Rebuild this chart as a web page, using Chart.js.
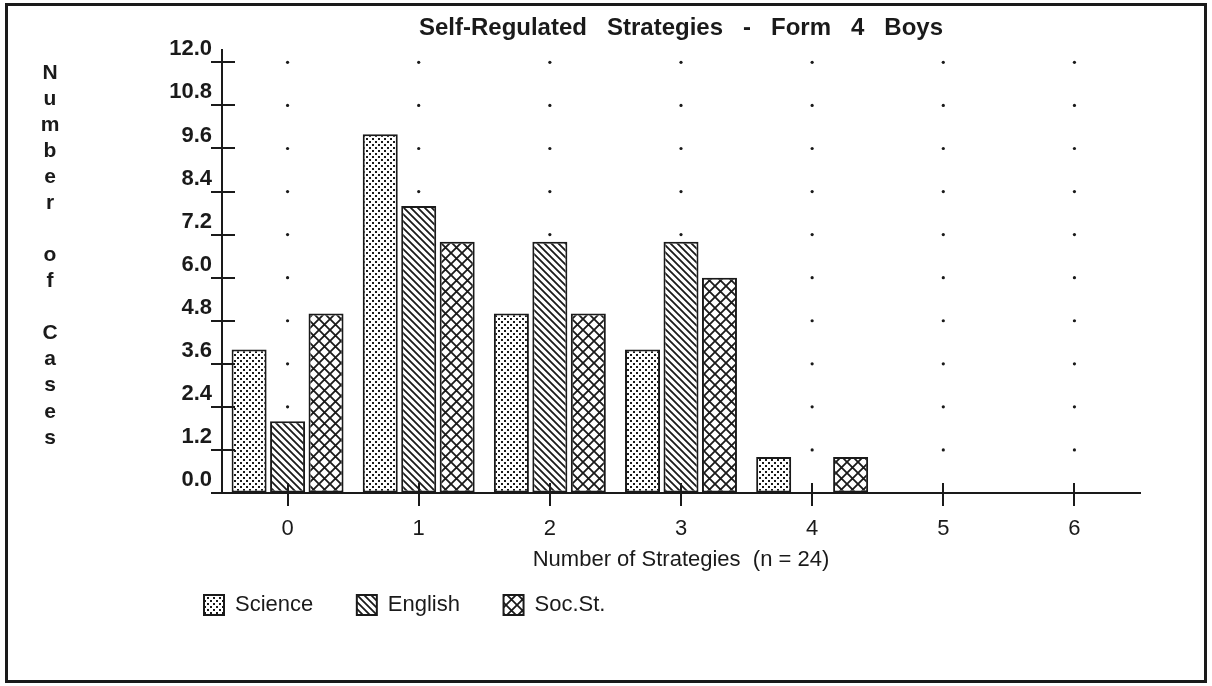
<!DOCTYPE html>
<html>
<head>
<meta charset="utf-8">
<script src="https://cdn.jsdelivr.net/npm/chart.js@4.4.1/dist/chart.umd.min.js"></script>
<style>
  html, body { margin: 0; padding: 0; background: #fff; }
  #wrap { position: relative; width: 1212px; height: 686px; }
  #chart { display: block; }
  #frame { position: absolute; left: 5px; top: 3px; width: 1202px; height: 680px; box-sizing: border-box; border: 3px solid #1a1a1a; pointer-events: none; }
</style>
</head>
<body>
<div id="wrap">
  <canvas id="chart" width="1212" height="686"></canvas>
  <div id="frame"></div>
</div>
<script>
// data
const categories = ["0", "1", "2", "3", "4", "5", "6"];
const science = [4, 10, 5, 4, 1, 0, 0];
const english = [2, 8, 7, 7, 0, 0, 0];
const socSt = [5, 7, 5, 6, 1, 0, 0];
const yTicks = [0, 1.2, 2.4, 3.6, 4.8, 6.0, 7.2, 8.4, 9.6, 10.8, 12.0];
const yTitle = "Number of Cases";

const ink = "#1a1a1a";
const fontFamily = '"Liberation Sans", Arial, Helvetica, sans-serif';
Chart.defaults.font.family = fontFamily;
Chart.defaults.color = ink;

// fill patterns, like the old printout
function makePattern(size, paint) {
    let c = document.createElement("canvas");
    c.width = size;
    c.height = size;
    let g = c.getContext("2d");
    g.fillStyle = "#fff";
    g.fillRect(0, 0, size, size);
    g.fillStyle = ink;
    g.strokeStyle = ink;
    paint(g, size);
    return g.createPattern(c, "repeat");
}

const dotFill = makePattern(6, function (g) {
    g.fillRect(0, 0, 2, 2);
    g.fillRect(3, 3, 2, 2);
});

const lineFill = makePattern(7, function (g, s) {
    g.lineWidth = 1.8;
    g.beginPath();
    g.moveTo(-1, -1); g.lineTo(s + 1, s + 1);
    g.moveTo(-1, s - 1); g.lineTo(1, s + 1);
    g.moveTo(s - 1, -1); g.lineTo(s + 1, 1);
    g.stroke();
});

const crossFill = makePattern(11, function (g, s) {
    g.lineWidth = 1.8;
    g.beginPath();
    g.moveTo(-1, -1); g.lineTo(s + 1, s + 1);
    g.moveTo(-1, s + 1); g.lineTo(s + 1, -1);
    g.stroke();
});

// dotted grid, axis tick marks and the stacked y title
const decor = {
    id: "decor",
    afterLayout(chart) {
        // let the y tick labels run left of the narrow axis box without being clipped
        chart.scales.y.left = 0;
    },
    beforeDatasetsDraw(chart) {
        const { ctx, scales: { x, y } } = chart;
        ctx.save();
        ctx.fillStyle = ink;
        categories.forEach((c, i) => {
            yTicks.forEach(v => {
                if (v === 0) return;
                ctx.beginPath();
                ctx.arc(x.getPixelForValue(i), y.getPixelForValue(v), 1.6, 0, Math.PI * 2);
                ctx.fill();
            });
        });
        ctx.restore();
    },
    afterDatasetsDraw(chart) {
        const { ctx, chartArea: a, scales: { x, y } } = chart;
        ctx.save();
        ctx.strokeStyle = ink;
        ctx.lineWidth = 2;
        ctx.beginPath();
        yTicks.forEach(v => {
            let py = Math.round(y.getPixelForValue(v));
            ctx.moveTo(a.left - 11, py);
            ctx.lineTo(a.left + 13, py);
        });
        categories.forEach((c, i) => {
            let px = Math.round(x.getPixelForValue(i));
            ctx.moveTo(px, a.bottom - 10);
            ctx.lineTo(px, a.bottom + 13);
        });
        ctx.stroke();

        ctx.fillStyle = ink;
        ctx.font = "bold 21px " + fontFamily;
        ctx.textAlign = "center";
        ctx.textBaseline = "middle";
        Array.from(yTitle).forEach((ch, k) => {
            ctx.fillText(ch, 50, a.top + 23 + k * 26.07);
        });
        ctx.restore();
    }
};

new Chart(document.getElementById("chart"), {
    type: "bar",
    data: {
        labels: categories,
        datasets: [
            { label: "Science", data: science, backgroundColor: dotFill },
            { label: "English", data: english, backgroundColor: lineFill },
            { label: "Soc.St.", data: socSt, backgroundColor: crossFill }
        ]
    },
    options: {
        responsive: false,
        animation: false,
        layout: { padding: { left: 191, right: 72, top: 0, bottom: 60 } },
        datasets: {
            bar: {
                borderColor: ink,
                borderWidth: 2,
                borderSkipped: false,
                categoryPercentage: 0.88,
                barPercentage: 0.91
            }
        },
        scales: {
            x: {
                grid: { drawOnChartArea: false, drawTicks: false },
                border: { color: ink, width: 2 },
                ticks: { padding: 23, font: { size: 22 } },
                title: {
                    display: true,
                    text: "Number of Strategies  (n = 24)",
                    font: { size: 22 },
                    padding: { top: 0, bottom: 8 }
                },
                afterFit: s => { s.height = 88; }
            },
            y: {
                min: 0,
                max: 12.35,
                afterBuildTicks: s => { s.ticks = yTicks.map(v => ({ value: v })); },
                afterFit: s => { s.width = 31; },
                grid: { drawOnChartArea: false, drawTicks: false },
                border: { color: ink, width: 2 },
                ticks: {
                    padding: 10,
                    labelOffset: -13,
                    font: { size: 22, weight: "bold" },
                    callback: v => Number(v).toFixed(1)
                }
            }
        },
        plugins: {
            title: {
                display: true,
                text: "Self-Regulated   Strategies   -   Form   4   Boys",
                fullSize: false,
                font: { size: 24, weight: "bold" },
                padding: { top: 14, bottom: 7 }
            },
            legend: {
                position: "bottom",
                align: "start",
                labels: {
                    boxWidth: 20,
                    boxHeight: 20,
                    padding: 13,
                    font: { size: 22 },
                    generateLabels: chart =>
                        Chart.defaults.plugins.legend.labels.generateLabels(chart)
                            .map(item => Object.assign(item, { text: item.text + "     " }))
                }
            },
            tooltip: { enabled: false }
        }
    },
    plugins: [decor]
});
</script>
</body>
</html>
